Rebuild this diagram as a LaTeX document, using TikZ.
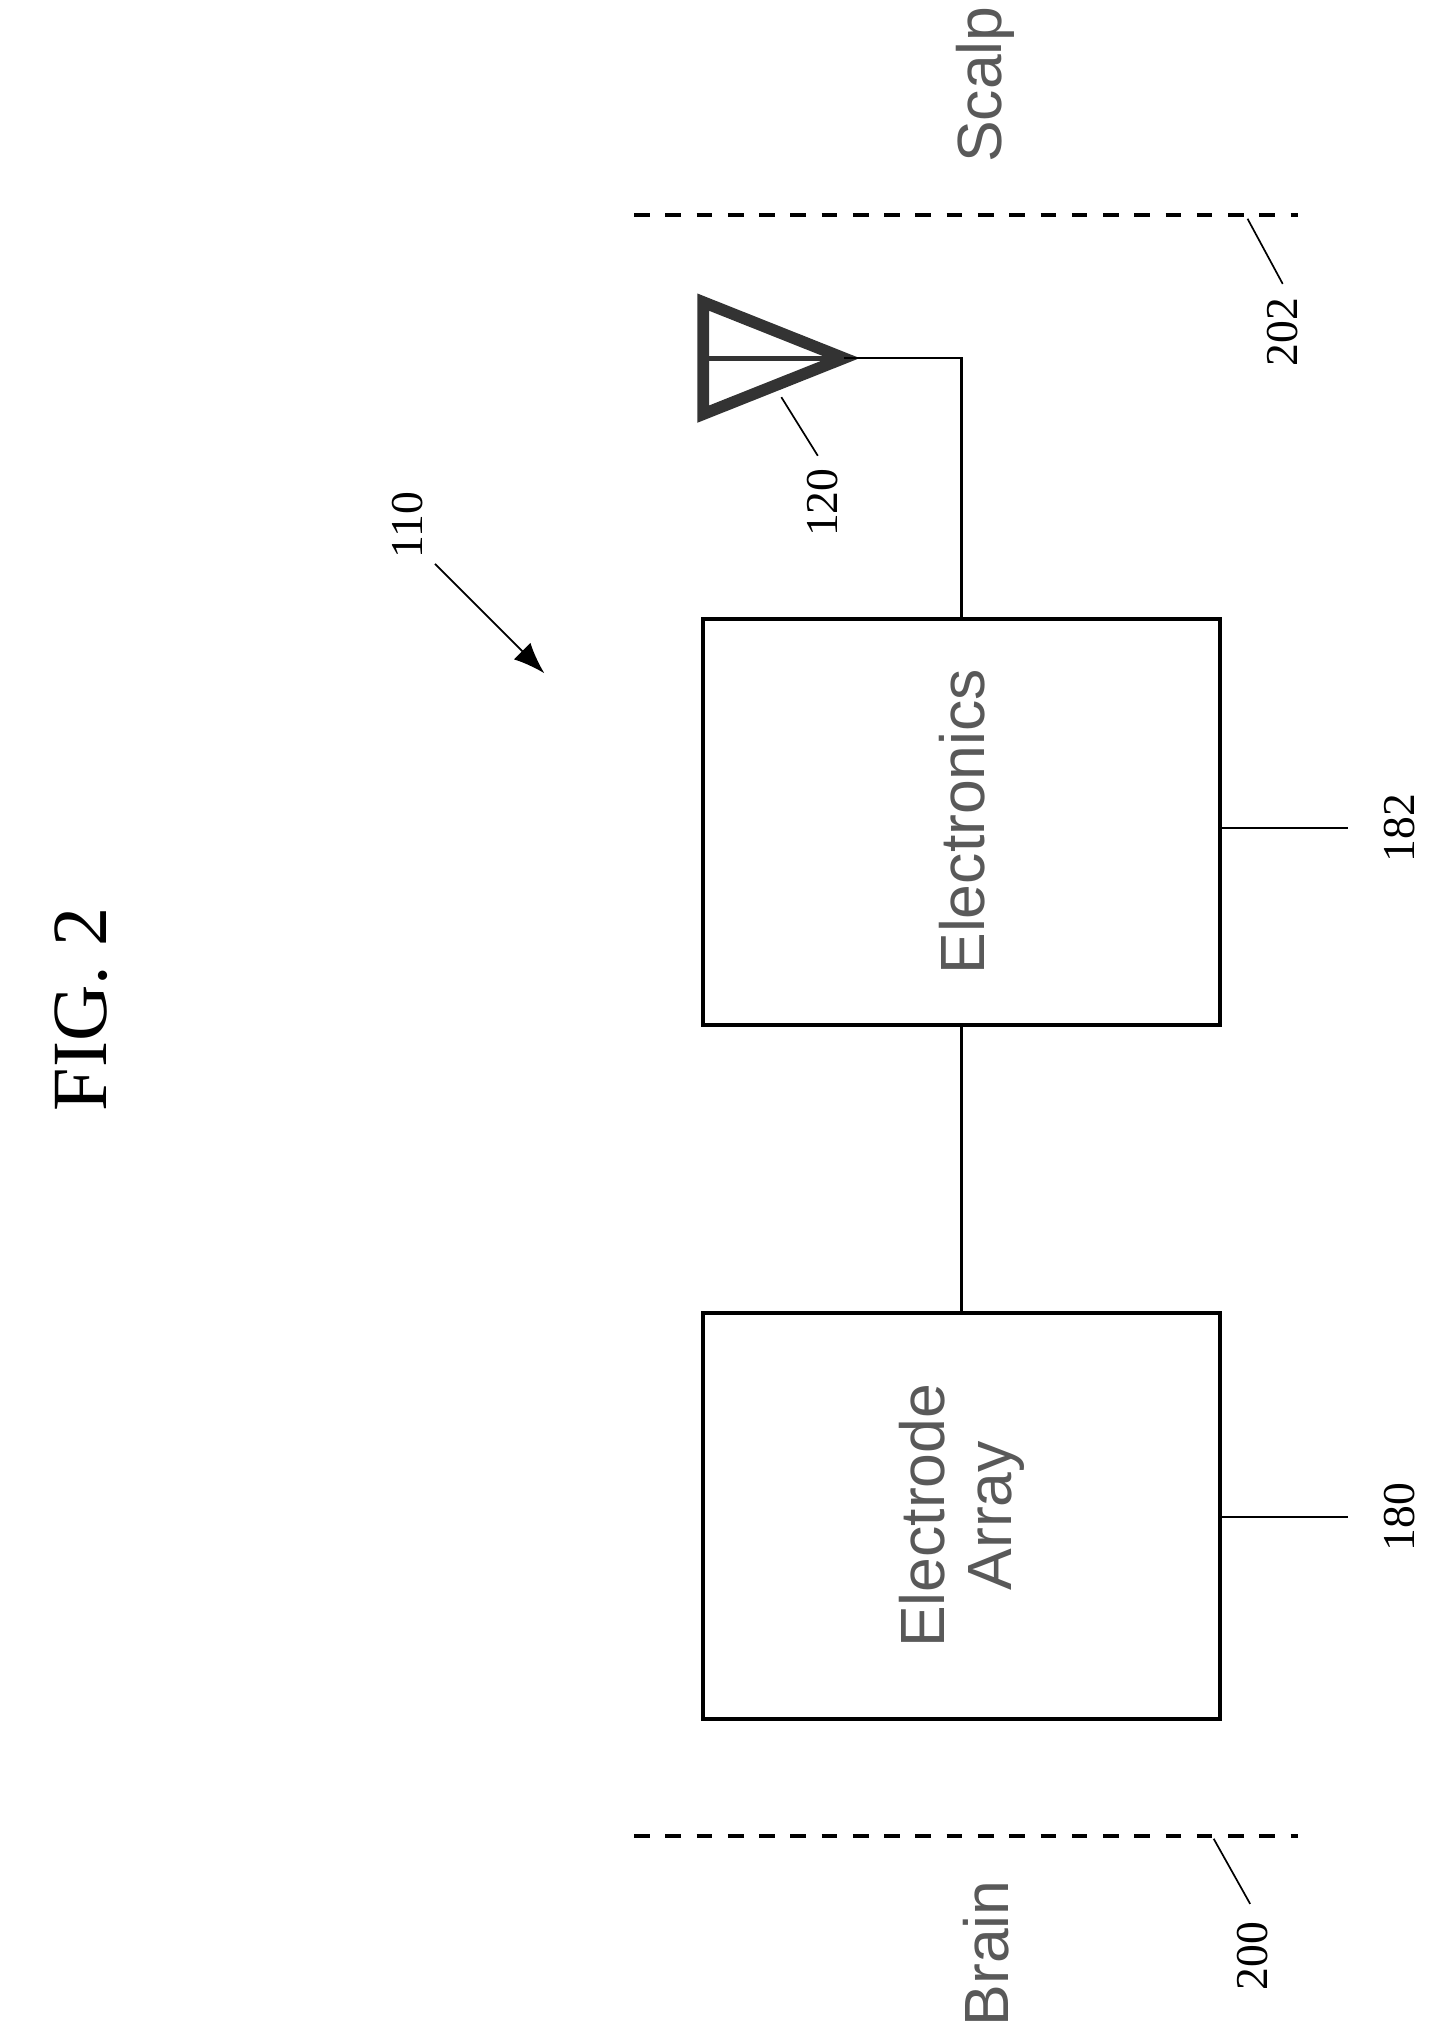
\documentclass[tikz,border=0pt]{standalone}
\usetikzlibrary{arrows.meta}
\usepackage{fontspec}
\setmainfont{Liberation Serif}
\setsansfont{Liberation Sans}
\begin{document}
\begin{tikzpicture}[x=1pt,y=-1pt,
  box/.style={draw,line width=3pt},
  wire/.style={line width=2pt},
  lead/.style={line width=1.3pt},
  layer/.style={line width=3pt,dash pattern=on 12pt off 12pt},
  num/.style={rotate=90,font=\fontsize{35}{37}\selectfont},
  lab/.style={rotate=90,text=black!65,font=\sffamily\fontsize{48}{52}\selectfont,align=center}]
\useasboundingbox (0,0) rectangle (1100,1565);
\node[rotate=90,font=\fontsize{60}{62}\selectfont] (fig) at (62,775) {FIG. 2};
% layers
\coordinate (s1) at (487,165); \coordinate (s2) at (997,165);
\coordinate (b1) at (487,1410); \coordinate (b2) at (997,1410);
\draw[layer] (s1) -- (s2);
\draw[layer] (b1) -- (b2);
\node[lab] (scalp) at (757,65) {Scalp};
\node[lab] (brain) at (757,1500) {Brain};
\coordinate (l202a) at (958,168); \coordinate (l202b) at (985,218);
\draw[lead] (l202a) -- (l202b);
\node[num] (n202) at (985,255) {202};
\coordinate (l200a) at (932,1412); \coordinate (l200b) at (960,1462);
\draw[lead] (l200a) -- (l200b);
\node[num] (n200) at (962,1502) {200};
% boxes
\node[box,minimum width=397pt,minimum height=312pt] (elec) at (738.5,631) {};
\node[lab] at (elec.center) {Electronics};
\node[box,minimum width=397pt,minimum height=312pt] (arr) at (738.5,1164) {};
\node[lab] at (arr.center) {Electrode\\Array};
\draw[wire] (elec.south) -- (arr.north);
% antenna
\coordinate (a1) at (540,232); \coordinate (a2) at (540,318); \coordinate (tip) at (648,275);
\coordinate (amid) at (540,275);
\draw[line width=9pt,line join=miter,black!80] (a1) -- (tip) -- (a2) -- cycle;
\draw[line width=4pt,black!80] (amid) -- (tip);
\draw[wire] (tip) -| (elec.north);
\coordinate (l120a) at (600,305); \coordinate (l120b) at (628,350);
\draw[lead] (l120a) -- (l120b);
\node[num] (n120) at (632,386) {120};
% refs
\coordinate (l182a) at (937,636); \coordinate (l182b) at (1035,636);
\draw[lead] (l182a) -- (l182b);
\node[num] (n182) at (1075,636) {182};
\coordinate (l180a) at (937,1165); \coordinate (l180b) at (1035,1165);
\draw[lead] (l180a) -- (l180b);
\node[num] (n180) at (1075,1165) {180};
% 110
\node[num] (n110) at (313,403) {110};
\coordinate (ar1) at (334,433); \coordinate (ar2) at (418,517);
\draw[lead,-{Latex[length=24pt,width=18pt]}] (ar1) -- (ar2);
\end{tikzpicture}
\end{document}
